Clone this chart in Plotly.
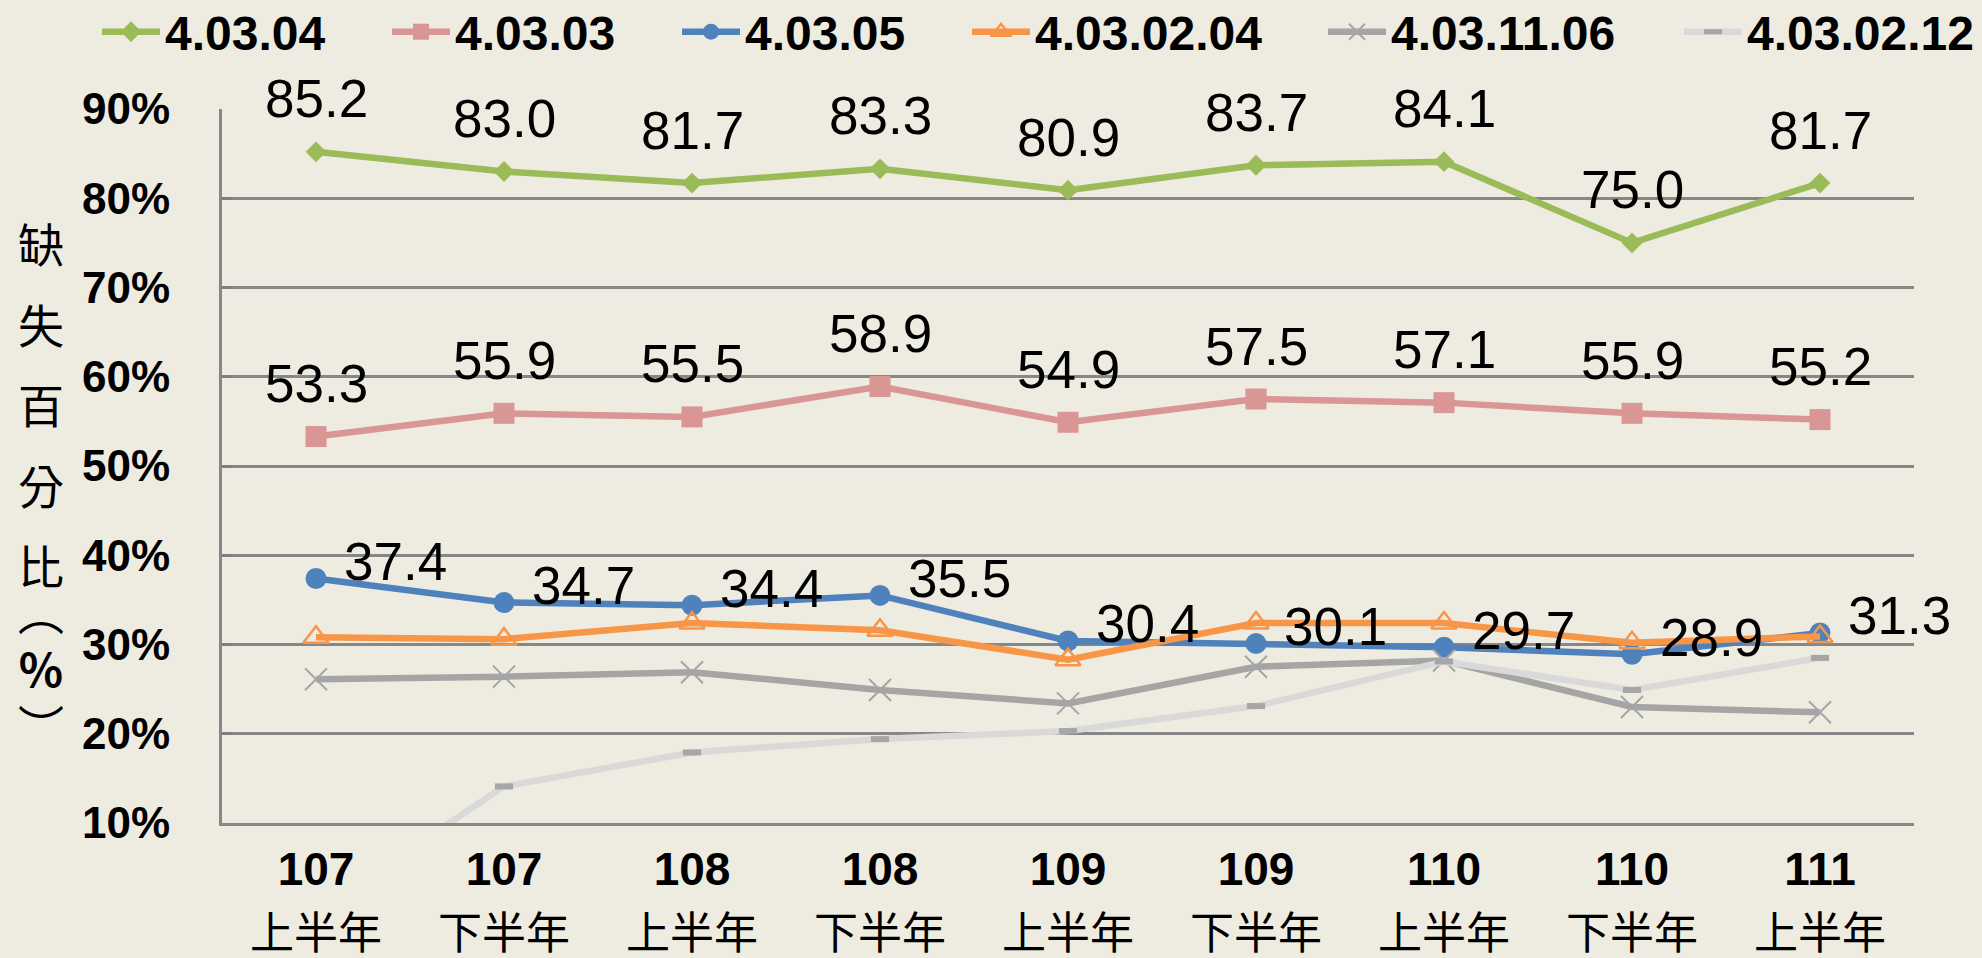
import plotly.graph_objects as go

# ---------------- data ----------------
years = ["107", "107", "108", "108", "109", "109", "110", "110", "111"]
halves = ["上半年", "下半年", "上半年", "下半年", "上半年", "下半年", "上半年", "下半年", "上半年"]
categories = [y + h for y, h in zip(years, halves)]

s_40304 = [85.2, 83.0, 81.7, 83.3, 80.9, 83.7, 84.1, 75.0, 81.7]
s_40303 = [53.3, 55.9, 55.5, 58.9, 54.9, 57.5, 57.1, 55.9, 55.2]
s_40305 = [37.4, 34.7, 34.4, 35.5, 30.4, 30.1, 29.7, 28.9, 31.3]
s_4030204 = [30.8, 30.6, 32.4, 31.6, 28.3, 32.4, 32.4, 30.2, 30.9]
s_4031106 = [26.1, 26.4, 26.9, 24.9, 23.4, 27.5, 28.2, 23.0, 22.4]
s_4030212 = [0.0, 14.1, 17.9, 19.4, 20.3, 23.1, 28.1, 24.9, 28.5]

series_names = ["4.03.04", "4.03.03", "4.03.05", "4.03.02.04", "4.03.11.06", "4.03.02.12"]
y_ticks = [10, 20, 30, 40, 50, 60, 70, 80, 90]
y_title_main = ["缺", "失", "百", "分", "比"]
y_title_tail = ["︵", "%", "︶"]

# ---------------- style ----------------
BG = "#EEECE1"
GRID = "#878787"
FONT = "Liberation Sans, Arial, Noto Sans CJK TC, sans-serif"
LW = 6.5

styles = [
    dict(color="#9BBB59", symbol="diamond", size=16, mline=dict(width=0)),
    dict(color="#D99694", symbol="square", size=21, mline=dict(width=0)),
    dict(color="#4F81BD", symbol="circle", size=21, mline=dict(width=0)),
    dict(color="#F79646", symbol="triangle-up-open", size=22, mline=dict(width=2.5, color="#F79646")),
    dict(color="#A5A5A5", symbol="x-thin", size=22, mline=dict(width=2, color="#A5A5A5")),
    dict(color="#D9D9D9", symbol="line-ew", size=13, mline=dict(width=6, color="#A6A6A6")),
]
legend_widths = [217, 217, 217, 283, 283, 230]
all_series = [s_40304, s_40303, s_40305, s_4030204, s_4031106, s_4030212]

fig = go.Figure()
for name, vals, st, lw in zip(series_names, all_series, styles, legend_widths):
    marker = dict(symbol=st["symbol"], size=st["size"], line=st["mline"])
    marker["color"] = "#A6A6A6" if st["symbol"] == "line-ew" else st["color"]
    fig.add_trace(go.Scatter(
        x=categories, y=vals, name=name, mode="lines+markers",
        line=dict(color=st["color"], width=LW),
        marker=marker,
        legendwidth=lw,
        cliponaxis=True,
    ))

annotations = []
# labels above points
for vals in (s_40304, s_40303):
    for c, v in zip(categories, vals):
        annotations.append(dict(
            x=c, y=v, xref="x", yref="y", text=f"{v:.1f}", showarrow=False,
            xanchor="center", yanchor="middle", yshift=53,
            font=dict(family=FONT, size=53, color="black"),
        ))
# labels right of points
for c, v in zip(categories, s_40305):
    annotations.append(dict(
        x=c, y=v, xref="x", yref="y", text=f"{v:.1f}", showarrow=False,
        xanchor="left", yanchor="middle", xshift=26, yshift=17,
        font=dict(family=FONT, size=53, color="black"),
    ))

# vertical y-axis title
annotations.append(dict(
    x=-0.107, y=0.588, xref="paper", yref="paper", showarrow=False,
    xanchor="center", yanchor="middle",
    text="<br>".join(f"<span style='font-size:46px'>{ch}</span>" for ch in y_title_main),
    font=dict(family="Noto Sans CJK TC", size=62, color="black"),
))
annotations.append(dict(
    x=-0.107, y=0.219, xref="paper", yref="paper", showarrow=False,
    xanchor="center", yanchor="middle",
    text="<br>".join(f"<span style='font-size:46px'><b>{ch}</b></span>" if ch == "%" else
                     f"<span style='font-size:46px'>{ch}</span>" for ch in y_title_tail),
    font=dict(family="Noto Sans CJK TC", size=44, color="black"),
))

ticktext = [f"<span style='font-size:46px'><b>{y}</b></span><br><span style='font-size:44px'>{h}</span>"
            for y, h in zip(years, halves)]

fig.update_layout(
    width=1982, height=958,
    paper_bgcolor=BG, plot_bgcolor=BG,
    margin=dict(l=222, r=68, t=109, b=135, autoexpand=False),
    font=dict(family=FONT, color="black"),
    showlegend=True,
    legend=dict(
        orientation="h", xref="paper", yref="paper",
        x=(97 - 222) / 1692, y=(823 - 32) / 714, xanchor="left", yanchor="middle",
        font=dict(family=FONT, size=48, color="black", weight="bold"),
        itemwidth=58, bgcolor="rgba(0,0,0,0)", traceorder="normal",
    ),
    annotations=annotations,
    xaxis=dict(
        type="category", categoryorder="array", categoryarray=categories,
        range=[-0.5, 8.5], tickvals=categories, ticktext=ticktext,
        tickfont=dict(family="Liberation Sans, Noto Sans CJK TC", size=49, color="black"),
        showgrid=False, showline=True, linecolor=GRID, linewidth=3,
        ticks="", ticklabelstandoff=0, automargin=False, zeroline=False,
    ),
    yaxis=dict(
        range=[10, 90], tickvals=y_ticks, ticktext=[f"{t}%" for t in y_ticks],
        tickfont=dict(family=FONT, size=44, color="black", weight="bold"),
        showgrid=True, gridcolor=GRID, gridwidth=2.5,
        showline=True, linecolor=GRID, linewidth=3,
        ticks="inside", ticklen=10, tickwidth=3, tickcolor="#7F7F7F",
        ticklabelstandoff=40, automargin=False, zeroline=False,
    ),
)

fig.write_html("out.html", config={"displayModeBar": False},
               post_script="document.body.style.margin='0px';")
